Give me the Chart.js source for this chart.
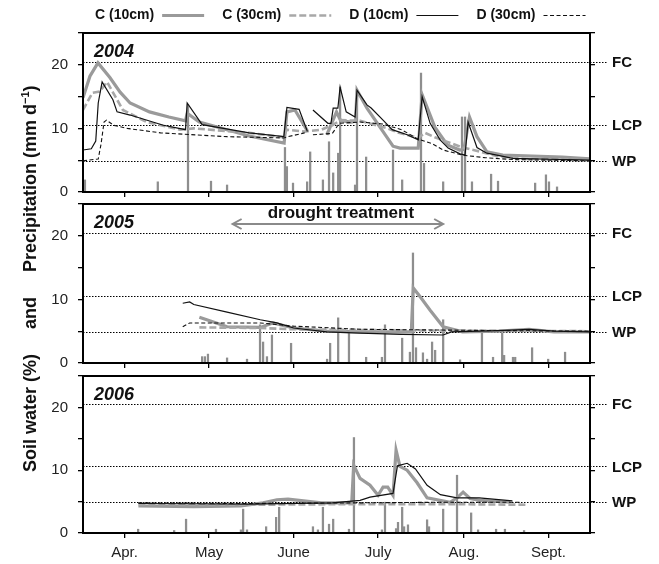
<!DOCTYPE html>
<html>
<head>
<meta charset="utf-8">
<script src="https://cdn.jsdelivr.net/npm/chart.js@4.4.1/dist/chart.umd.min.js"></script>
<style>
  body { margin: 0; background: #fff; }
  #wrap { position: relative; width: 659px; height: 564px; overflow: hidden; font-family: "Liberation Sans", Arial, sans-serif; }
  #wrap canvas { position: absolute; left: 0; }
  #ytitle { position: absolute; left: 19px; top: 472px; transform-origin: 0 0; transform: rotate(-90deg);
            white-space: pre; font-weight: bold; font-size: 18px; color: #111; line-height: 22px; }
  #ytitle sup { font-size: 11px; line-height: 0; }
</style>
</head>
<body>
<div id="wrap">
  <canvas id="c2004" width="659" height="200"></canvas>
  <canvas id="c2005" width="659" height="171"></canvas>
  <canvas id="c2006" width="659" height="193"></canvas>
  <div id="ytitle">Soil water (%)     and     Precipitation (mm d<sup>−1</sup>)</div>
</div>
<script>
// x values are days since 1 April
const monthStarts = [0, 30, 61, 91, 122, 153, 183];
const monthLabels = ['Apr.', 'May', 'June', 'July', 'Aug.', 'Sept.'];
const thresholdValues = [20.5, 10.6, 4.9];
const thresholdLabels = ['FC', 'LCP', 'WP'];
const seriesNames = ['C (10cm)', 'C (30cm)', 'D (10cm)', 'D (30cm)'];
const droughtSpan = [54, 130];

// ---- 2004 ----
const c10_2004 = [[0,14.8],[2.5,18.2],[5.4,20.3],[9.7,18],[13.4,15.7],[17,14],[24,12.6],[31,11.8],[37,11.2],[37.6,12.4],[42,11],[60,8.8],
  [72.6,7.7],[73.6,12.6],[76.5,12.9],[80.9,9.7],[81.5,null],[88,9],[89.5,10.5],[91.5,12.6],[93,11.2],[97,11],[98.4,11.2],[98.9,16],
  [102.5,13.2],[111.9,7.2],[114.4,6.9],[121,6.9],[122.4,15.3],[127,10.2],[131.5,7.4],[136,6.6],[137.5,6.7],[139.5,11.8],[142.2,8.7],
  [145.8,6.3],[151.5,5.8],[173,5.5],[183,5.2]];
const c30_2004 = [[0,12.9],[3.4,15.6],[6,15.8],[8.7,17.3],[14.4,12.9],[23,11],[35,9.8],[40,10],[60,9.3],[72.5,8.6],[73.5,9.8],[80,9.5],
  [86,9.8],[90,10.5],[93,11.3],[100,11.2],[110,10],[114,9.3],[121,8.5],[123.5,9.3],[127,8.6],[137,7],[142,6.5],[150,5.6],[160,5.2],[183,5]];
const d10_2004 = [[0,6.6],[3,6.8],[4.6,8],[5.5,14],[6.9,17.3],[10.8,14.5],[12.3,12.6],[17,12.1],[29,10.5],[37,9.8],[37.6,14],[43,10.6],
  [60,9.3],[72.5,8.7],[73.6,13.3],[78,13],[81,9.5],[81.5,null],[83,12.9],[88.4,10.8],[89.5,10.8],[90.3,13.2],[92,13.2],[92.8,16.5],
  [95,12.6],[98.2,11.8],[98.9,16],[102.5,13.7],[104,13.2],[108.3,11.3],[111.6,9.8],[117,9],[121,8.2],[122.4,15],[125.3,10.8],[128.9,8.2],
  [131.8,6.9],[136.1,6],[137.9,5.8],[139,11],[142.2,7],[145.8,6.1],[155.2,5.3],[183,5]];
const d30_2004 = [[0,4.9],[5.5,5.2],[6.5,7.5],[7.6,11],[8.5,11.3],[11,10.5],[16,10],[28,9.3],[52,8.7],[72.5,8.5],[74,8.7],[80,9.3],
  [81.5,null],[83,9],[90,9.2],[92.5,10.8],[100,11],[108,10.7],[115,9.8],[121,8.3],[126,7.6],[130,6.6],[137,5.8],[145,5.4],[155,5.1],[183,4.9]];
const rainDays_2004 = [0.7,27,37.9,46.2,52,72.9,73.6,75.8,80.9,82,86.6,88.8,90.3,92.1,92.8,98.2,98.9,102.2,111.9,115.2,122,123.1,
  130,136.8,137.9,140.4,147.3,149.8,163.2,167.1,168.2,171.1];
const rain_2004 = [1.9,1.6,13.7,1.7,1.1,7,4,1.4,1.6,6.3,1.9,7.9,3,6.1,16.5,1.1,16,5.5,6.6,1.9,18.7,4.5,
  1.6,11.8,11.8,1.6,2.8,1.7,1.4,2.7,1.6,0.8];

// ---- 2005 ----
const c10_2005 = [[42,7.2],[46,6.6],[52,5.7],[64,5.6],[68.5,6.3],[76,5.5],[88,5],[100,4.9],[118.5,4.9],[119.2,11.8],[121.7,10.4],
  [125.3,8.3],[130,5.7],[137,4.9],[150,5],[161,5.3],[170,4.9],[183,4.9]];
const c30_2005 = [[42,5.6],[64,5.5],[76,5.3],[100,5.2],[130,5.1],[183,5]];
const d10_2005 = [[36,9.4],[38.5,9.6],[40,9.2],[52,8],[64,6.8],[70,6.3],[76,5.5],[88,4.9],[100,4.7],[115,4.5],[130,4.4],[133,4.9],
  [150,5.1],[161,5.3],[170,5],[183,4.9]];
const d30_2005 = [[36,5.7],[38.5,6.3],[64,6.3],[76,5.8],[100,5.3],[125,5.2],[150,5.1],[183,5]];
const rainDays_2005 = [43,44,45.1,52,59.2,63.9,65,66.4,68.2,75.1,88.1,89.2,92.1,96,102.2,107.9,109,115.2,118,119.1,120.2,122.7,
  124.2,126,127.1,130,136.1,144,148,151.3,152,155.2,156,162.1,167.9,174];
const rain_2005 = [1,1,1.4,0.8,0.6,6,3.3,1,4.4,3.1,0.6,3.1,7.1,4.7,0.9,0.9,6,3.9,1.7,17.3,2.4,1.6,
  0.6,3.3,2,6.8,0.5,4.7,0.9,4.7,1.2,0.9,0.9,2.4,0.6,1.7];

// ---- 2006 ----
const c10_2006 = [[20,4.3],[40,4.2],[57,4.3],[65,4.8],[70,5.3],[74,5.4],[78,5.2],[86,4.8],[97,4.8],[97.7,10.8],[100,8.7],[103.6,7.6],
  [106.5,6],[108.3,7.3],[110,7.3],[111.9,6],[113,13.2],[114.4,10.6],[117,10],[120.6,8],[124.2,5.6],[132.5,4.9],[135,5.6],[137.2,6.5],
  [139.7,5.5],[143.3,5.2],[154.2,4.9]];
const c30_2006 = [[20,4.6],[60,4.5],[100,4.6],[130,4.6],[160.3,4.5]];
const d10_2006 = [[20,4.7],[60,4.6],[90,4.8],[100,5.2],[103.6,5.7],[111.9,6.3],[113.5,10.7],[117,11.1],[120,10.2],[124.2,7.6],[129,6.1],
  [135,5.6],[143,5.6],[155,5.1]];
const d30_2006 = [[20,4.8],[60,4.7],[100,4.8],[130,4.9],[158,4.9]];
const rainDays_2006 = [19.9,32.9,37.2,48,57,57.8,59.2,66.1,69.7,70.8,83,84.8,86.6,88.8,90.3,96,97.8,107.9,109,113,113.7,115.2,
  115.9,117.3,124.2,124.9,130,135,140.1,142.6,149.1,152.3,159.2];
const rain_2006 = [0.6,0.4,2.2,0.6,0.5,3.8,0.5,1,2.5,4.1,1,0.5,4.1,1.4,2.2,0.6,15.2,0.5,4.9,0.7,1.7,4.1,
  1,1.3,2.1,1,3.8,9.2,3.2,0.5,0.6,0.6,0.4];

const styles = [
  { color: '#9a9a9a', width: 3.2, dash: [] },
  { color: '#a8a8a8', width: 2.6, dash: [7, 3] },
  { color: '#111', width: 1.2, dash: [] },
  { color: '#111', width: 1.1, dash: [4, 2.5] }
];

const FONT = '"Liberation Sans", Arial, sans-serif';

const panelDecor = {
  id: 'panelDecor',
  beforeDatasetsDraw(chart, args, opts) {
    const { ctx, chartArea: a, scales: { y } } = chart;
    ctx.save();
    ctx.strokeStyle = '#000';
    ctx.lineWidth = 1;
    ctx.setLineDash([1.5, 1.5]);
    thresholdValues.forEach(v => {
      const py = Math.round(y.getPixelForValue(v)) + 0.5;
      ctx.beginPath();
      ctx.moveTo(a.left, py);
      ctx.lineTo(a.right + 17, py);
      ctx.stroke();
    });
    ctx.restore();
  },
  afterDraw(chart, args, opts) {
    const { ctx, chartArea: a, scales: { x, y } } = chart;
    ctx.save();
    // frame
    ctx.strokeStyle = '#000';
    ctx.lineWidth = 2;
    ctx.strokeRect(a.left, a.top, a.right - a.left, a.bottom - a.top);
    // threshold labels
    ctx.fillStyle = '#111';
    ctx.font = 'bold 15px ' + FONT;
    ctx.textBaseline = 'middle';
    thresholdValues.forEach((v, i) => {
      ctx.fillText(thresholdLabels[i], a.right + 22, y.getPixelForValue(v) + 1);
    });
    // year
    ctx.font = 'italic bold 18px ' + FONT;
    ctx.textBaseline = 'alphabetic';
    ctx.fillText(opts.year, a.left + 11, a.top + 24);
    // legend
    if (opts.legend) {
      let px = 95;
      const ly = a.top - 18;
      ctx.font = 'bold 14px ' + FONT;
      ctx.textBaseline = 'middle';
      seriesNames.forEach((name, i) => {
        ctx.fillStyle = '#111';
        ctx.fillText(name, px, ly);
        px += ctx.measureText(name).width + 8;
        const s = styles[i];
        ctx.strokeStyle = s.color;
        ctx.lineWidth = s.width;
        ctx.setLineDash(s.dash);
        ctx.beginPath();
        ctx.moveTo(px, ly + 0.5);
        ctx.lineTo(px + 42, ly + 0.5);
        ctx.stroke();
        ctx.setLineDash([]);
        px += 42 + 18;
      });
    }
    // drought treatment arrow
    if (opts.drought) {
      const x1 = x.getPixelForValue(droughtSpan[0]);
      const x2 = x.getPixelForValue(droughtSpan[1]);
      const ay = a.top + 20;
      ctx.strokeStyle = '#8a8a8a';
      ctx.lineWidth = 2;
      ctx.beginPath();
      ctx.moveTo(x1, ay); ctx.lineTo(x2, ay);
      ctx.moveTo(x1 + 9, ay - 5); ctx.lineTo(x1, ay); ctx.lineTo(x1 + 9, ay + 5);
      ctx.moveTo(x2 - 9, ay - 5); ctx.lineTo(x2, ay); ctx.lineTo(x2 - 9, ay + 5);
      ctx.stroke();
      ctx.fillStyle = '#111';
      ctx.font = 'bold 17px ' + FONT;
      ctx.textAlign = 'center';
      ctx.textBaseline = 'alphabetic';
      ctx.fillText('drought treatment', (x1 + x2) / 2 + 3, a.top + 14);
      ctx.textAlign = 'left';
    }
    // month labels
    if (opts.months) {
      ctx.fillStyle = '#222';
      ctx.font = '15px ' + FONT;
      ctx.textAlign = 'center';
      ctx.textBaseline = 'middle';
      monthLabels.forEach((m, i) => {
        const mid = (monthStarts[i] + monthStarts[i + 1]) / 2;
        ctx.fillText(m, x.getPixelForValue(mid), a.bottom + 20);
      });
    }
    ctx.restore();
  }
};

function lineSet(i, pts) {
  const s = styles[i];
  return {
    type: 'line',
    label: seriesNames[i],
    data: pts.map(p => ({ x: p[0], y: p[1] })),
    borderColor: s.color,
    borderWidth: s.width,
    borderDash: s.dash,
    pointRadius: 0,
    fill: false,
    tension: 0,
    spanGaps: false,
    order: 4 - i
  };
}

function chartConfig(year, series, rainDays, rain, padTop, bottomH, extra) {
  const datasets = series.map((pts, i) => lineSet(i, pts));
  datasets.push({
    type: 'bar',
    label: 'Precipitation',
    data: rainDays.map((d, i) => ({ x: d, y: rain[i] })),
    backgroundColor: '#8e8e8e',
    barThickness: 1.6,
    order: 10
  });
  const tickGrid = { drawOnChartArea: false, drawTicks: true, tickLength: 5, color: '#000', lineWidth: 1.3 };
  return {
    type: 'line',
    data: { datasets },
    options: {
      responsive: false,
      maintainAspectRatio: false,
      animation: false,
      devicePixelRatio: 1,
      layout: { padding: { top: padTop, left: 0, right: 0, bottom: 0 } },
      scales: {
        x: {
          type: 'linear', min: 0, max: 183, offset: false,
          afterBuildTicks: s => { s.ticks = monthStarts.map(v => ({ value: v })); },
          ticks: { callback: () => '', font: { size: 1 } },
          grid: tickGrid,
          border: { display: false },
          afterFit: s => { s.height = bottomH; }
        },
        y: {
          min: 0, max: 25,
          ticks: {
            stepSize: 5, padding: 10, color: '#222',
            font: { family: FONT, size: 15 },
            callback: v => (v % 10 === 0 && v < 25 ? v : '')
          },
          grid: tickGrid,
          border: { display: false },
          afterFit: s => { s.width = 83; }
        },
        y2: {
          position: 'right', min: 0, max: 25,
          ticks: { stepSize: 5, callback: () => '' },
          grid: tickGrid,
          border: { display: false },
          afterFit: s => { s.width = 69; }
        }
      },
      plugins: {
        legend: { display: false },
        tooltip: { enabled: false },
        panelDecor: Object.assign({ year }, extra)
      }
    },
    plugins: [panelDecor]
  };
}

// build once to measure the axis overhead, then size the canvas so the plot box lands on top..bottom
function placeChart(id, top, bottom, makeCfg) {
  const canvas = document.getElementById(id);
  let chart = new Chart(canvas, makeCfg());
  const overTop = chart.chartArea.top;
  const overBottom = chart.height - chart.chartArea.bottom;
  chart.destroy();
  canvas.width = 659;
  canvas.height = overTop + (bottom - top) + overBottom;
  canvas.style.top = (top - overTop) + 'px';
  return new Chart(canvas, makeCfg());
}

placeChart('c2004', 33, 192, () => chartConfig('2004', [c10_2004, c30_2004, d10_2004, d30_2004], rainDays_2004, rain_2004, 33, 8, { legend: true }));
placeChart('c2005', 204, 363, () => chartConfig('2005', [c10_2005, c30_2005, d10_2005, d30_2005], rainDays_2005, rain_2005, 0, 8, { drought: true }));
placeChart('c2006', 376, 533, () => chartConfig('2006', [c10_2006, c30_2006, d10_2006, d30_2006], rainDays_2006, rain_2006, 0, 31, { months: true }));
</script>
</body>
</html>
